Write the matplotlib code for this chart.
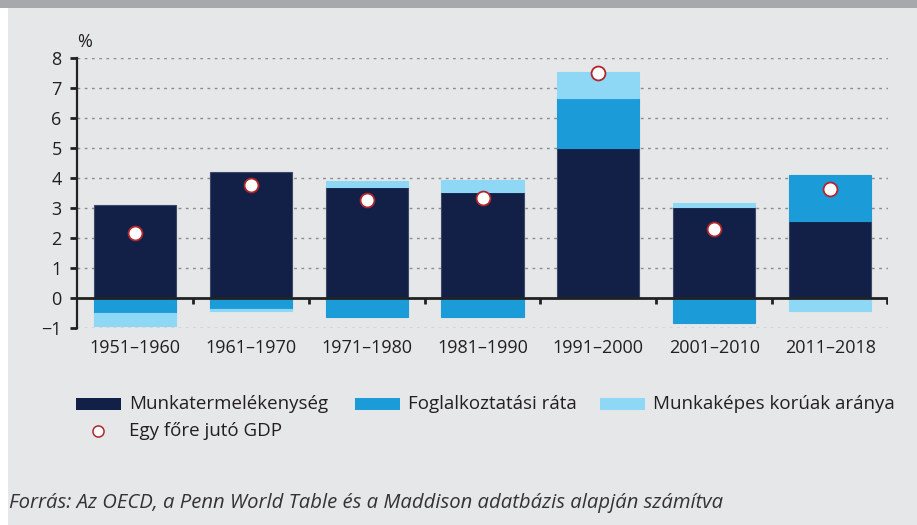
import numpy as np
import matplotlib.pyplot as plt
from matplotlib.patches import Rectangle
from matplotlib.lines import Line2D

periods = ["1951–1960", "1961–1970", "1971–1980", "1981–1990",
           "1991–2000", "2001–2010", "2011–2018"]
munkatermelekenyseg = [3.10, 4.20, 3.70, 3.52, 5.00, 3.03, 2.56]
foglalkoztatas = [-0.50, -0.37, -0.62, -0.64, 1.68, -0.82, 1.53]
korosszetetel = [-0.43, -0.06, 0.20, 0.42, 0.86, 0.13, -0.43]
gdp_per_capita = [2.18, 3.77, 3.27, 3.32, 7.49, 2.29, 3.64]

series = [
    ("Munkatermelékenység", munkatermelekenyseg, "#121f47"),
    ("Foglalkoztatási ráta", foglalkoztatas, "#1b9cd8"),
    ("Munkaképes korúak aránya", korosszetetel, "#8fd8f5"),
]

plt.rcParams['font.family'] = ['Open Sans', 'DejaVu Sans']
bg = "#e6e7e9"
text_col = "#231f20"

fig = plt.figure(figsize=(9.17, 5.25), dpi=100, facecolor=bg)
# white strip on the left and grey band on top
fig.patches.append(Rectangle((0, 0), 8 / 917, 1, transform=fig.transFigure,
                             facecolor="white", edgecolor="none", zorder=0))
fig.patches.append(Rectangle((0, 1 - 8 / 525), 1, 8 / 525, transform=fig.transFigure,
                             facecolor="#a7a8ac", edgecolor="none", zorder=0))

ax = fig.add_axes([77 / 917, 197 / 525, 811 / 917, 270 / 525])
ax.set_facecolor(bg)

x = np.arange(len(periods))
pos_base = np.zeros(len(periods))
neg_base = np.zeros(len(periods))
for name, vals, col in series:
    vals = np.array(vals)
    bottoms = np.where(vals >= 0, pos_base, neg_base)
    ec = "#3d4766" if col == "#121f47" else col
    ax.bar(x, vals, 0.71, bottom=bottoms, color=col, edgecolor=ec,
           linewidth=0.8, zorder=2)
    pos_base += np.where(vals >= 0, vals, 0)
    neg_base += np.where(vals < 0, vals, 0)

ax.plot(x, gdp_per_capita, "o", ms=10, mfc="white", mec="#b0262b",
        mew=1.3, zorder=4)

ax.set_xlim(-0.5, 6.5)
ax.set_ylim(-1, 8)
ax.set_yticks(range(-1, 9))
ax.set_yticklabels([str(v).replace("-", "−") for v in range(-1, 9)])
for v in range(-1, 9):
    if v != 0:
        ax.axhline(v, color="#8c8c8c", lw=1, ls=(0, (2, 3.2)), zorder=1)
ax.axhline(0, color="#222222", lw=2, zorder=3)
ax.vlines(np.arange(0.5, len(periods), 1), -0.2, 0, color="#222222", lw=2, zorder=3)
ax.vlines([6.49], -0.2, 0, color="#222222", lw=2, zorder=3)

ax.set_xticks(x)
ax.set_xticklabels(periods)
ax.tick_params(axis="x", length=0, pad=8, labelsize=13, labelcolor=text_col)
ax.tick_params(axis="y", length=5, width=2, color="#222222", pad=6,
               labelsize=13, labelcolor=text_col)
for s in ["top", "right", "bottom"]:
    ax.spines[s].set_visible(False)
ax.spines["left"].set_color("#222222")
ax.spines["left"].set_linewidth(1.6)

fig.text(85 / 917, 1 - 42 / 525, "%", fontsize=13, color=text_col,
         ha="center", va="center")

# legend
for px, (name, vals, col) in zip([76, 355, 600], series):
    fig.patches.append(Rectangle((px / 917, 1 - 410 / 525), 45 / 917, 12 / 525,
                                 transform=fig.transFigure, facecolor=col,
                                 edgecolor="none"))
    fig.text((px + 53) / 917, 1 - 404 / 525, name, fontsize=13.5, color=text_col,
             va="center", ha="left")
fig.lines.append(Line2D([98 / 917], [1 - 431 / 525], marker="o", ms=8,
                        mfc="white", mec="#b0262b", mew=1.1,
                        transform=fig.transFigure))
fig.text(129 / 917, 1 - 431 / 525, "Egy főre jutó GDP", fontsize=13.5,
         color=text_col, va="center", ha="left")

fig.text(9 / 917, 1 - 503 / 525,
         "Forrás: Az OECD, a Penn World Table és a Maddison adatbázis alapján számítva",
         fontsize=14.6, style="italic", color="#333333", va="center", ha="left")

fig.savefig("out.png", dpi=100, facecolor=bg)
